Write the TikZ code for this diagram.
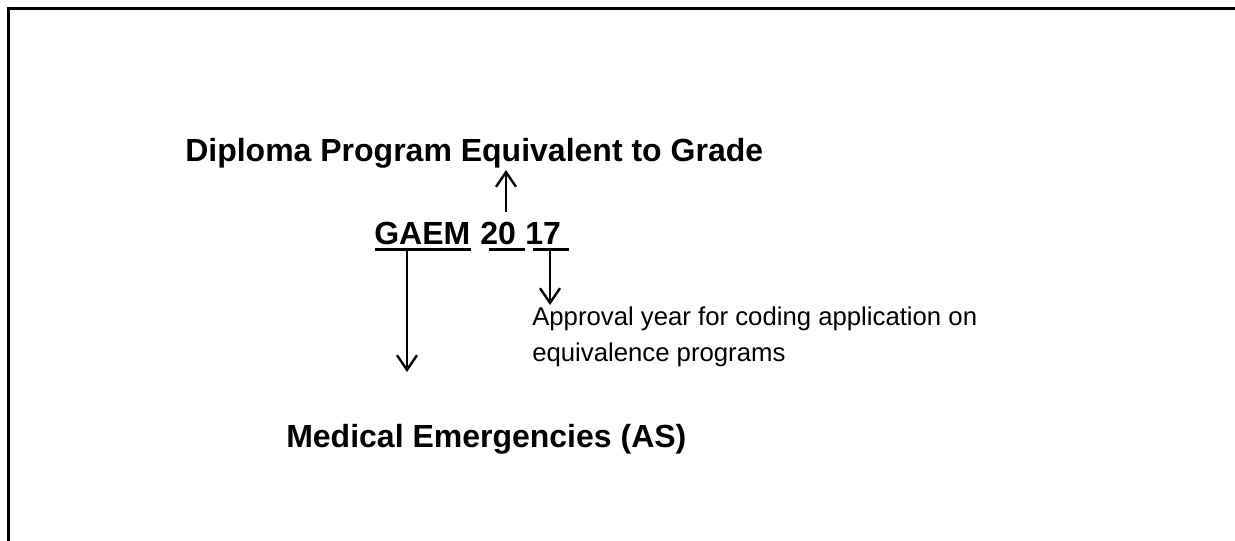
\documentclass[tikz,border=0pt]{standalone}
\usepackage{fontspec}
\setmainfont{Liberation Sans}
\usetikzlibrary{arrows.meta}
\begin{document}
\begin{tikzpicture}[x=0.75pt,y=0.75pt,yscale=-1,xscale=1,
	headtxt/.style={inner sep=0pt,font=\fontsize{24}{29}\selectfont\bfseries},
	notetxt/.style={inner sep=0pt,align=left,font=\fontsize{19.3}{27}\selectfont},
	uline/.style={line width=2.25pt},
	barb/.style={line width=1.8pt,-{Straight Barb[length=11pt,width=15pt,line width=1.8pt]}}]
	\useasboundingbox (0,0) rectangle (1235,541);
	
	%Frame (left and top edges)
	\draw [line width=2.6pt] (8.5,541) -- (8.5,8.5) -- (1235,8.5) ;
	
	% Text Node
	\node [headtxt,anchor=base west] (diploma) at (185,162) {Diploma Program Equivalent to Grade};
	% Text Node
	\node [headtxt,anchor=base west] (gaem) at (374,245) {GAEM};
	% Text Node
	\node [headtxt,anchor=base west] (cent) at (480,245) {20};
	% Text Node
	\node [headtxt,anchor=base west] (yr) at (525,245) {17};
	% Text Node (base = second line)
	\node [notetxt,anchor=base west] (approval) at (532,362) {Approval year for coding application on\\equivalence programs};
	% Text Node
	\node [headtxt,anchor=base west] (medical) at (286,447) {Medical Emergencies (AS)};
	
	%Underlines
	\draw [uline] (375,250) -- (471,250) ;
	\draw [uline] (489,250) -- (525,250) ;
	\draw [uline] (533,250) -- (569,250) ;
	
	%Arrows
	\coordinate (upfoot) at (506,212);
	\coordinate (uptip) at (506,170);
	\coordinate (gaemfoot) at (407,251);
	\coordinate (gaemtip) at (407,372);
	\coordinate (yrfoot) at (550,251);
	\coordinate (yrtip) at (550,305);
	\draw [barb] (upfoot) -- (uptip) ;
	\draw [barb] (gaemfoot) -- (gaemtip) ;
	\draw [barb] (yrfoot) -- (yrtip) ;
	
\end{tikzpicture}
\end{document}
